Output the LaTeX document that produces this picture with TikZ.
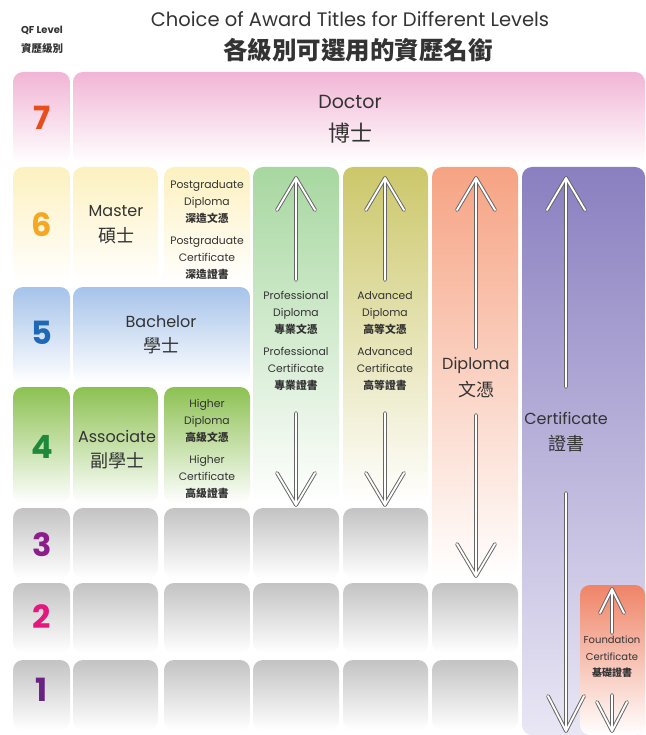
\documentclass[tikz,border=0pt]{standalone}
\usepackage{fontspec}
\setmainfont{Poppins}
\newfontfamily\cjk{Noto Sans CJK TC}
\definecolor{txtc}{HTML}{333333}
\definecolor{arrg}{HTML}{666666}
\definecolor{pinkT}{HTML}{F1B5D5}
\definecolor{yelT}{HTML}{FDF1C0}
\definecolor{bluT}{HTML}{A6C3EA}
\definecolor{grnT}{HTML}{8CC152}
\definecolor{gryT}{HTML}{C3C3C3}
\definecolor{proT}{HTML}{A7D7A0}
\definecolor{advT}{HTML}{CCC76A}
\definecolor{dipT}{HTML}{F6A383}
\definecolor{cerT}{HTML}{8A7FC0}
\definecolor{cerB}{HTML}{E9E7F5}
\definecolor{fouT}{HTML}{EF8467}
\definecolor{n7}{HTML}{E84E1B}
\definecolor{n6}{HTML}{F5A623}
\definecolor{n5}{HTML}{1F68B6}
\definecolor{n4}{HTML}{1C8A3A}
\definecolor{n3}{HTML}{8C1D8A}
\definecolor{n2}{HTML}{E3177D}
\definecolor{n1}{HTML}{6A2382}
\tikzset{
  cell/.style={rounded corners=10pt},
  txt/.style={text=txtc, align=center, inner sep=0pt},
  sm/.style={txt, font=\fontsize{10.8}{16.8}\selectfont},
  big/.style={txt, font=\fontsize{16}{20}\selectfont},
  bigc/.style={txt, font=\cjk\fontsize{18}{20}\selectfont},
  lvl/.style={inner sep=0pt, font=\fontsize{32}{32}\selectfont\bfseries},
  arrout/.style={line width=3.8pt, draw=arrg, line cap=round, line join=round},
  arrin/.style={line width=1.9pt, draw=white, line cap=round, line join=round},
}
\newcommand\arrowdraw[4]{%
  \draw[arrout] (#2) -- (#1) (#1) ++(-#3,#4) -- (#1) -- ++(#3,#4);
  \draw[arrin] (#2) -- (#1) (#1) ++(-#3,#4) -- (#1) -- ++(#3,#4);
}
\newcommand\zh[1]{{\cjk\bfseries #1}}
\begin{document}
\begin{tikzpicture}[x=1pt,y=-1pt]
\useasboundingbox (0,0) rectangle (645,735);
\fill[white] (0,0) rectangle (645,735);
% ---- headers
\node[txt, font=\fontsize{10}{12}\selectfont\bfseries] (qf) at (42,30) {QF Level};
\node[txt, font=\cjk\fontsize{10.5}{12}\selectfont\bfseries] (qfc) at (42,48) {資歷級別};
\node[txt, font=\fontsize{19.5}{22}\selectfont] (title) at (350,19) {Choice of Award Titles for Different Levels};
\node[txt, font=\cjk\fontsize{24.5}{26}\selectfont\bfseries] (titlec) at (358,50) {各級別可選用的資歷名銜};
% ---- row 7
\path[cell, top color=pinkT, bottom color=white] (13,72) rectangle (70,163);
\path[cell, top color=pinkT, bottom color=white] (73,72) rectangle (645,163);
% ---- row 6
\path[cell, top color=yelT, bottom color=white] (13,167) rectangle (70,284);
\path[cell, top color=yelT, bottom color=white] (73,167) rectangle (158,284);
\path[cell, top color=yelT, bottom color=white] (164,167) rectangle (250,284);
% ---- row 5
\path[cell, top color=bluT, bottom color=white] (13,287) rectangle (70,383);
\path[cell, top color=bluT, bottom color=white] (73,287) rectangle (250,383);
% ---- row 4
\path[cell, top color=grnT, bottom color=white] (13,387) rectangle (70,503);
\path[cell, top color=grnT, bottom color=white] (73,387) rectangle (158,503);
\path[cell, top color=grnT, bottom color=white] (164,387) rectangle (250,503);
% ---- tall columns
\path[cell, top color=proT, bottom color=white] (253,167) rectangle (339,503);
\path[cell, top color=advT, bottom color=white] (343,167) rectangle (428,503);
\path[cell, top color=dipT, bottom color=white] (432,167) rectangle (518,578);
\path[cell, top color=cerT, bottom color=cerB] (522,167) rectangle (645,735);
\path[cell, top color=fouT, bottom color=white] (580,585) rectangle (645,735);
% ---- grey cells
\foreach \a/\b in {13/70,73/158,164/250,253/339,343/428}{
  \path[cell, top color=gryT, bottom color=white] (\a,508) rectangle (\b,578);
}
\foreach \a/\b in {13/70,73/158,164/250,253/339,343/428,432/518}{
  \path[cell, top color=gryT, bottom color=white] (\a,583) rectangle (\b,653);
  \path[cell, top color=gryT, bottom color=white] (\a,660) rectangle (\b,730);
}
% ---- level numbers
\node[lvl, text=n7] (l7) at (42,118) {7};
\node[lvl, text=n6] (l6) at (42,225) {6};
\node[lvl, text=n5] (l5) at (42,333) {5};
\node[lvl, text=n4] (l4) at (42,447) {4};
\node[lvl, text=n3] (l3) at (42,545) {3};
\node[lvl, text=n2] (l2) at (42,617) {2};
\node[lvl, text=n1] (l1) at (42,690) {1};
% ---- labels
\node[big, font=\fontsize{19}{22}\selectfont] (doc) at (350,102) {Doctor};
\node[bigc, font=\cjk\fontsize{22}{24}\selectfont] (docc) at (350,133) {博士};
\node[big] (mas) at (116,211) {Master};
\node[bigc] (masc) at (116,236) {碩士};
\node[big] (bac) at (161,322) {Bachelor};
\node[bigc] (bacc) at (161,346) {學士};
\node[big] (ass) at (117,436) {Associate};
\node[bigc] (assc) at (117,461) {副學士};
\node[big] (dip) at (476,365) {Diploma};
\node[bigc] (dipc) at (476,390) {文憑};
\node[big] (cer) at (566,418) {Certificate};
\node[bigc] (cerc) at (566,444) {證書};
\node[sm] (pgd) at (207,202) {Postgraduate\\Diploma\\\zh{深造文憑}};
\node[sm] (pgc) at (207,258) {Postgraduate\\Certificate\\\zh{深造證書}};
\node[sm] (hd) at (207,421) {Higher\\Diploma\\\zh{高級文憑}};
\node[sm] (hc) at (207,477) {Higher\\Certificate\\\zh{高級證書}};
\node[sm] (pd) at (296,313) {Professional\\Diploma\\\zh{專業文憑}};
\node[sm] (pc) at (296,369) {Professional\\Certificate\\\zh{專業證書}};
\node[sm] (ad) at (385,313) {Advanced\\Diploma\\\zh{高等文憑}};
\node[sm] (ac) at (385,369) {Advanced\\Certificate\\\zh{高等證書}};
\node[sm, font=\fontsize{10}{16.5}\selectfont] (fc) at (612,657) {Foundation\\Certificate\\\zh{基礎證書}};
% ---- arrow coordinates
\coordinate (pUt) at (296,178); \coordinate (pUb) at (296,280);
\coordinate (pDt) at (296,505); \coordinate (pDb) at (296,413);
\coordinate (aUt) at (385,178); \coordinate (aUb) at (385,280);
\coordinate (aDt) at (385,505); \coordinate (aDb) at (385,413);
\coordinate (dUt) at (476,178); \coordinate (dUb) at (476,348);
\coordinate (dDt) at (476,576); \coordinate (dDb) at (476,415);
\coordinate (cUt) at (566,178); \coordinate (cUb) at (566,387);
\coordinate (cDt) at (566,731); \coordinate (cDb) at (566,493);
\coordinate (fUt) at (612,589); \coordinate (fUb) at (612,633);
\coordinate (fDt) at (612,731); \coordinate (fDb) at (612,695);
\arrowdraw{pUt}{pUb}{19}{32}
\arrowdraw{pDt}{pDb}{19}{-32}
\arrowdraw{aUt}{aUb}{19}{32}
\arrowdraw{aDt}{aDb}{19}{-32}
\arrowdraw{dUt}{dUb}{19}{32}
\arrowdraw{dDt}{dDb}{19}{-32}
\arrowdraw{cUt}{cUb}{19}{32}
\arrowdraw{cDt}{cDb}{18}{-35}
\arrowdraw{fUt}{fUb}{12}{24}
\arrowdraw{fDt}{fDb}{15}{-29}
\end{tikzpicture}
\end{document}
